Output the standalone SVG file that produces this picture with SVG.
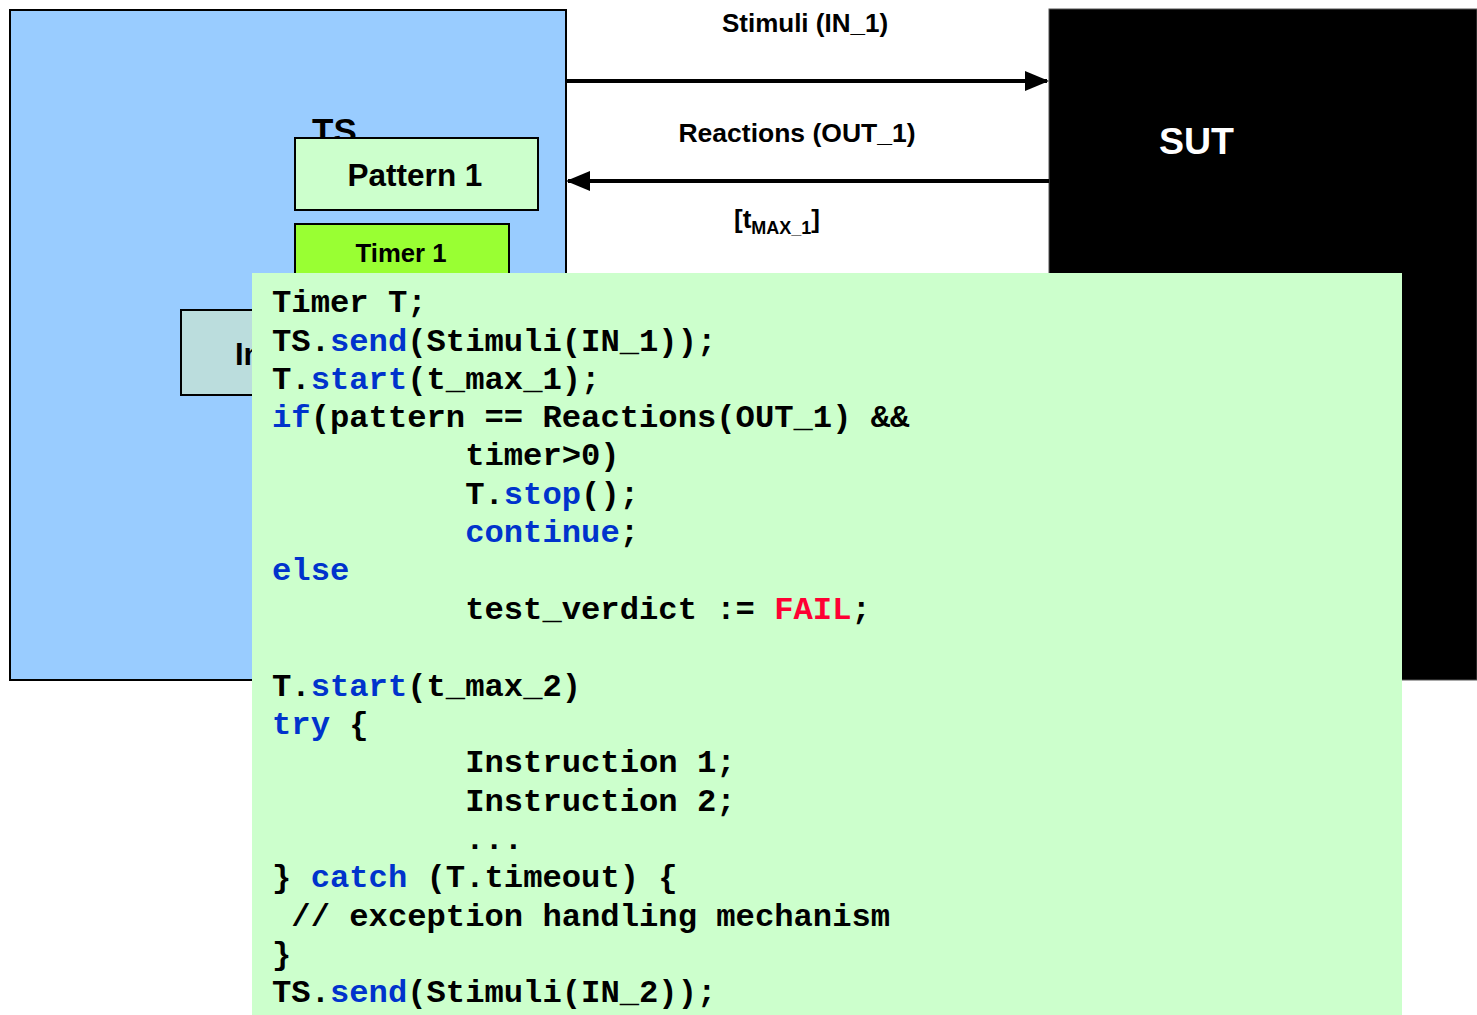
<svg xmlns="http://www.w3.org/2000/svg" width="1477" height="1015" viewBox="0 0 1477 1015">
  <style>
    .lbl { font-family: "Liberation Sans", Arial, sans-serif; font-weight: bold; fill: #000; }
    .code { font-family: "Liberation Mono", "Courier New", monospace; font-weight: bold; font-size: 32.2px; fill: #000; white-space: pre; }
    .kw { fill: #0033cc; }
    .err { fill: #ff0033; }
    .box { stroke: #000; stroke-width: 2; }
  </style>
  <defs>
    <marker id="arrow" markerWidth="6" markerHeight="5" refX="5.5" refY="2.5" orient="auto" markerUnits="strokeWidth">
      <path d="M0,0 L6,2.5 L0,5 z" fill="#000"/>
    </marker>
  </defs>
  <rect width="1477" height="1015" fill="#fff"/>

  <g id="ts">
    <rect class="box" x="10" y="10" width="556" height="670" fill="#99ccff"/>
    <text class="lbl" x="312" y="143" font-size="35">TS</text>
  </g>

  <g id="sut">
    <rect x="1049" y="9" width="428" height="671" fill="#000" stroke="#555" stroke-width="1"/>
    <text class="lbl" x="1159" y="154" font-size="37.5" style="fill:#fff">SUT</text>
  </g>

  <g id="pattern1">
    <rect class="box" x="295" y="138" width="243" height="72" fill="#ccffcc"/>
    <text class="lbl" x="415" y="186" font-size="31.5" text-anchor="middle">Pattern 1</text>
  </g>

  <g id="timer1">
    <rect class="box" x="295" y="224" width="214" height="70" fill="#99ff33"/>
    <text class="lbl" x="401" y="262" font-size="25.7" text-anchor="middle">Timer 1</text>
  </g>

  <g id="instructions">
    <rect class="box" x="181" y="310" width="120" height="85" fill="#bbdddd"/>
    <text class="lbl" x="235" y="365" font-size="31">In</text>
  </g>

  <g id="connectors">
    <line x1="566" y1="81" x2="1047" y2="81" stroke="#000" stroke-width="4" marker-end="url(#arrow)"/>
    <line x1="1049" y1="181" x2="568" y2="181" stroke="#000" stroke-width="4" marker-end="url(#arrow)"/>
    <text class="lbl" x="805" y="32" font-size="26" text-anchor="middle">Stimuli (IN_1)</text>
    <text class="lbl" x="797" y="142" font-size="26.5" text-anchor="middle">Reactions (OUT_1)</text>
    <text class="lbl" x="734" y="228" font-size="26">[t<tspan font-size="18" dy="6">MAX_1</tspan><tspan dy="-6">]</tspan></text>
  </g>

  <g id="code">
    <rect x="252" y="273" width="1150" height="742" fill="#ccffcc"/>
    <text class="code" x="272" y="312">Timer T;</text>
    <text class="code" x="272" y="351">TS.<tspan class="kw">send</tspan>(Stimuli(IN_1));</text>
    <text class="code" x="272" y="389">T.<tspan class="kw">start</tspan>(t_max_1);</text>
    <text class="code" x="272" y="427"><tspan class="kw">if</tspan>(pattern == Reactions(OUT_1) &amp;&amp;</text>
    <text class="code" x="272" y="465">          timer&gt;0)</text>
    <text class="code" x="272" y="504">          T.<tspan class="kw">stop</tspan>();</text>
    <text class="code" x="272" y="542">          <tspan class="kw">continue</tspan>;</text>
    <text class="code" x="272" y="580"><tspan class="kw">else</tspan></text>
    <text class="code" x="272" y="619">          test_verdict := <tspan class="err">FAIL</tspan>;</text>
    <text class="code" x="272" y="696">T.<tspan class="kw">start</tspan>(t_max_2)</text>
    <text class="code" x="272" y="734"><tspan class="kw">try</tspan> {</text>
    <text class="code" x="272" y="772">          Instruction 1;</text>
    <text class="code" x="272" y="811">          Instruction 2;</text>
    <text class="code" x="272" y="849">          ...</text>
    <text class="code" x="272" y="887">} <tspan class="kw">catch</tspan> (T.timeout) {</text>
    <text class="code" x="272" y="926"> // exception handling mechanism</text>
    <text class="code" x="272" y="964">}</text>
    <text class="code" x="272" y="1002">TS.<tspan class="kw">send</tspan>(Stimuli(IN_2));</text>
  </g>
</svg>
